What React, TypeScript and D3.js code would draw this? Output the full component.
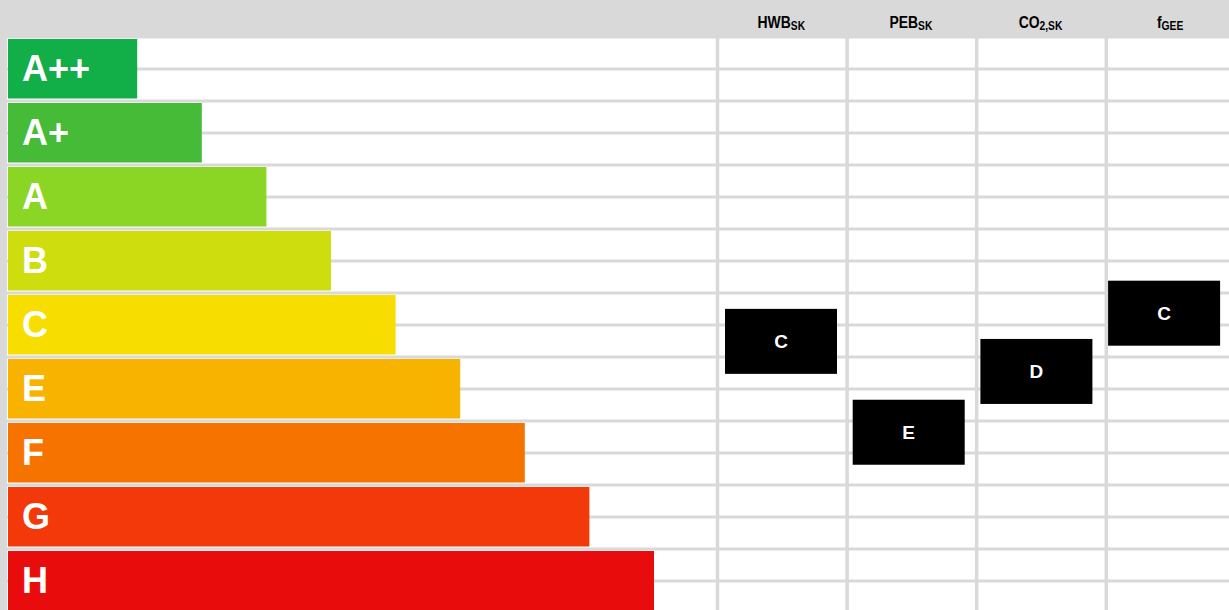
import * as d3 from "d3";

// energy classes shown as bars (no D row in the original)
const classes = ["A++", "A+", "A", "B", "C", "E", "F", "G", "H"];
const barValues = [2, 3, 4, 5, 6, 7, 8, 9, 10];
const barColors = [
  "#12ae48", "#45bb38", "#8bd524", "#cddd0e", "#f7de00",
  "#f8b200", "#f77300", "#f3390a", "#e90c0c",
];

// indicator columns
const indicatorMain = ["HWB", "PEB", "CO", "f"];
const indicatorSub = ["SK", "SK", "2,SK", "GEE"];
const ratings = ["C", "E", "D", "C"];
// centre of each rating box, in row units from the top of A++
const ratingPos = [4.74, 6.16, 5.21, 4.3];

const W = 1229;
const H = 610;
const GRAY = "#d9d9d9";
const HEADER_H = 38;
const STEP = 64;
const PAD = 4.5 / STEP;

export default function App() {
  const rowScale = d3.scaleBand<string>()
    .domain(classes)
    .range([HEADER_H + 1, HEADER_H + 1 + STEP * (classes.length - PAD)])
    .paddingInner(PAD)
    .paddingOuter(0)
    .align(0);

  const rowPos = d3.scaleLinear()
    .domain([0, classes.length])
    .range([HEADER_H, HEADER_H + STEP * classes.length]);

  const xBar = d3.scaleLinear().domain([0, 10]).range([8, 654]);

  const colScale = d3.scaleBand<string>()
    .domain(indicatorMain)
    .range([717.5, 717.5 + 129.6 * 4]);

  const boxScale = d3.scaleBand<string>()
    .domain(indicatorMain)
    .range([725, 725 + 127.7 * 4]);

  const boxW = 112;
  const boxH = 65;

  // horizontal grid every half row
  const gridYs = d3.range(0, classes.length * 2 + 1).map((k) => rowPos(k / 2) - 1);

  return (
    <svg
      width={W}
      height={H}
      style={{ position: "absolute", left: 0, top: 0, display: "block", background: "#fff" }}
      fontFamily="'Liberation Sans', Arial, sans-serif"
    >
      <rect x={0} y={0} width={W} height={HEADER_H} fill={GRAY} />
      <rect x={0} y={0} width={7} height={H} fill={GRAY} />

      {gridYs.map((y, i) => (
        <line key={"h" + i} x1={7} x2={W} y1={y} y2={y} stroke={GRAY} strokeWidth={3} />
      ))}

      {indicatorMain.map((d) => (
        <line
          key={"v" + d}
          x1={colScale(d)!}
          x2={colScale(d)!}
          y1={HEADER_H}
          y2={H}
          stroke={GRAY}
          strokeWidth={3.5}
        />
      ))}

      {classes.map((c, i) => (
        <g key={c}>
          <rect
            x={xBar(0)}
            y={rowScale(c)!}
            width={xBar(barValues[i]) - xBar(0)}
            height={rowScale.bandwidth()}
            fill={barColors[i]}
          />
          <text
            x={22}
            y={rowScale(c)! + rowScale.bandwidth() / 2 + 12.5}
            fill="#fff"
            fontSize={36}
            fontWeight="bold"
          >
            {c}
          </text>
        </g>
      ))}

      {indicatorMain.map((d, i) => (
        <text
          key={"t" + d}
          transform={`translate(${colScale(d)! + colScale.bandwidth() / 2 - 1},28) scale(0.82,1)`}
          textAnchor="middle"
          fontWeight="bold"
          fontSize={17}
          fill="#000"
        >
          {d}
          <tspan fontSize={12.5} dy={2}>{indicatorSub[i]}</tspan>
        </text>
      ))}

      {indicatorMain.map((d, i) => {
        const cy = rowPos(ratingPos[i]);
        const x = boxScale(d)!;
        return (
          <g key={"b" + d}>
            <rect x={x} y={cy - boxH / 2} width={boxW} height={boxH} fill="#000" />
            <text
              x={x + boxW / 2}
              y={cy + 7}
              textAnchor="middle"
              fill="#fff"
              fontWeight="bold"
              fontSize={19}
            >
              {ratings[i]}
            </text>
          </g>
        );
      })}
    </svg>
  );
}
